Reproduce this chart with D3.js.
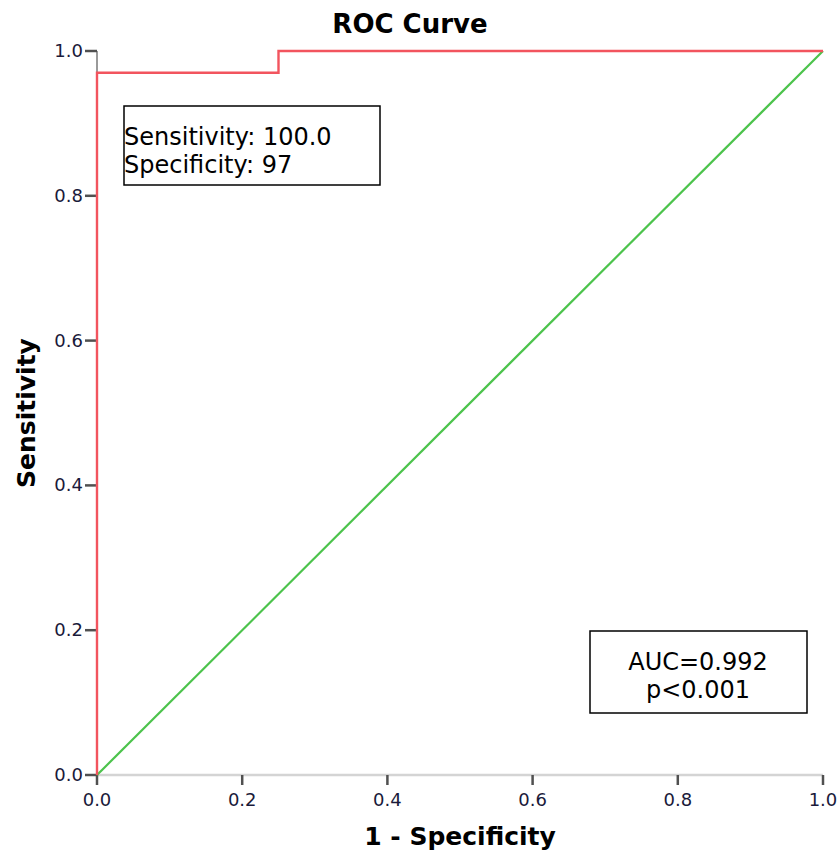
<!DOCTYPE html>
<html>
<head>
<meta charset="utf-8">
<script src="https://cdn.jsdelivr.net/npm/d3@7"></script>
<style>
  body { margin: 0; background: #fff; }
  svg text { font-family: "DejaVu Sans", sans-serif; }
  .tick-label { font-size: 18px; fill: #1a1a3a; }
  .axis-title { font-size: 25px; font-weight: bold; fill: #000; }
  .note { font-size: 24px; fill: #000; }
</style>
</head>
<body>
<svg id="chart" width="840" height="855"></svg>
<script>
// ROC curve points (1 - specificity, sensitivity)
const rocX = [0, 0, 0.25, 0.25, 1]
const rocY = [0, 0.97, 0.97, 1, 1]
// reference (chance) line
const refX = [0, 1]
const refY = [0, 1]
const ticks = [0, 0.2, 0.4, 0.6, 0.8, 1.0]
const noteLeft = ['Sensitivity: 100.0', 'Specificity: 97']
const noteRight = ['AUC=0.992', 'p<0.001']

const MARGIN = { top: 51, right: 17, bottom: 80, left: 97 }
const width = 840, height = 855
const boundedWidth = width - MARGIN.left - MARGIN.right
const boundedHeight = height - MARGIN.top - MARGIN.bottom

const $svg = d3.select('#chart')
const $g = $svg.append('g')
  .attr('transform', `translate(${MARGIN.left}, ${MARGIN.top})`)

const xScale = d3.scaleLinear().domain([0, 1]).range([0, boundedWidth])
const yScale = d3.scaleLinear().domain([0, 1]).range([boundedHeight, 0])

// axes
$g.append('line')
  .attr('x1', 0).attr('x2', boundedWidth)
  .attr('y1', boundedHeight).attr('y2', boundedHeight)
  .attr('stroke', '#d4d4d4').attr('stroke-width', 2.5)
$g.append('line')
  .attr('x1', 0).attr('x2', 0)
  .attr('y1', 0).attr('y2', boundedHeight)
  .attr('stroke', '#9a9a9a').attr('stroke-width', 2)

const fmt = d3.format('.1f')

$g.selectAll('.xtick')
  .data(ticks)
  .enter()
  .append('line')
    .attr('class', 'xtick')
    .attr('x1', d => xScale(d)).attr('x2', d => xScale(d))
    .attr('y1', boundedHeight).attr('y2', boundedHeight + 10)
    .attr('stroke', '#505050').attr('stroke-width', 2.5)
$g.selectAll('.xlabel')
  .data(ticks)
  .enter()
  .append('text')
    .attr('class', 'tick-label')
    .attr('x', d => xScale(d))
    .attr('y', boundedHeight + 31)
    .attr('text-anchor', 'middle')
    .text(d => fmt(d))

$g.selectAll('.ytick')
  .data(ticks)
  .enter()
  .append('line')
    .attr('class', 'ytick')
    .attr('x1', -12).attr('x2', 0)
    .attr('y1', d => yScale(d)).attr('y2', d => yScale(d))
    .attr('stroke', '#505050').attr('stroke-width', 2.5)
$g.selectAll('.ylabel')
  .data(ticks)
  .enter()
  .append('text')
    .attr('class', 'tick-label')
    .attr('x', -14)
    .attr('y', d => yScale(d) + 6)
    .attr('text-anchor', 'end')
    .text(d => fmt(d))

// lines
const line = d3.line()
  .x(d => xScale(d[0]))
  .y(d => yScale(d[1]))

$g.append('path')
  .datum(d3.zip(refX, refY))
  .attr('d', line)
  .attr('fill', 'none')
  .attr('stroke', '#4cc34c')
  .attr('stroke-width', 2.2)

$g.append('path')
  .datum(d3.zip(rocX, rocY))
  .attr('d', line)
  .attr('fill', 'none')
  .attr('stroke', '#f2545e')
  .attr('stroke-width', 2.4)

// titles
$svg.append('text')
  .attr('class', 'axis-title')
  .attr('x', 410)
  .attr('y', 33)
  .attr('text-anchor', 'middle')
  .style('font-size', '26px')
  .text('ROC Curve')
$svg.append('text')
  .attr('class', 'axis-title')
  .attr('x', MARGIN.left + boundedWidth / 2)
  .attr('y', 845)
  .attr('text-anchor', 'middle')
  .text('1 - Specificity')
$svg.append('text')
  .attr('class', 'axis-title')
  .attr('transform', `translate(35, ${MARGIN.top + boundedHeight / 2}) rotate(-90)`)
  .attr('text-anchor', 'middle')
  .text('Sensitivity')

// annotation boxes
const $n1 = $svg.append('g').attr('transform', 'translate(124, 106)')
$n1.append('rect')
  .attr('width', 256).attr('height', 79)
  .attr('fill', '#fff').attr('stroke', '#000').attr('stroke-width', 1.5)
$n1.selectAll('text')
  .data(noteLeft)
  .enter()
  .append('text')
    .attr('class', 'note')
    .attr('x', 0)
    .attr('y', (d, i) => 39 + i * 28)
    .text(d => d)

const $n2 = $svg.append('g').attr('transform', 'translate(590, 631)')
$n2.append('rect')
  .attr('width', 217).attr('height', 82)
  .attr('fill', '#fff').attr('stroke', '#000').attr('stroke-width', 1.5)
$n2.selectAll('text')
  .data(noteRight)
  .enter()
  .append('text')
    .attr('class', 'note')
    .attr('x', 108)
    .attr('y', (d, i) => 39 + i * 28)
    .attr('text-anchor', 'middle')
    .text(d => d)
</script>
</body>
</html>
